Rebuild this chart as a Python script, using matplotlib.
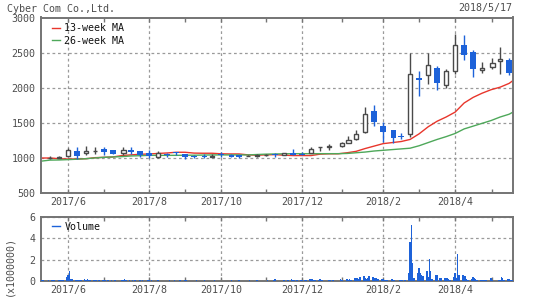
import numpy as np
import matplotlib
matplotlib.use('Agg')
import matplotlib.pyplot as plt
import matplotlib.dates as mdates
from matplotlib.lines import Line2D

plt.rcParams['font.family'] = ['DejaVu Sans Mono']
plt.rcParams['font.size'] = 7.2

# ---------------- data ----------------
company = "Cyber Com Co.,Ltd."
as_of = "2018/5/17"

candle_dates = ['2017-05-22', '2017-05-29', '2017-06-05', '2017-06-12', '2017-06-19', '2017-06-26',
                '2017-07-03', '2017-07-10', '2017-07-18', '2017-07-24', '2017-07-31', '2017-08-07',
                '2017-08-14', '2017-08-21', '2017-08-28', '2017-09-04', '2017-09-11', '2017-09-19',
                '2017-09-25', '2017-10-02', '2017-10-10', '2017-10-16', '2017-10-23', '2017-10-30',
                '2017-11-06', '2017-11-13', '2017-11-20', '2017-11-27', '2017-12-04', '2017-12-11',
                '2017-12-18', '2017-12-25', '2018-01-04', '2018-01-09', '2018-01-15', '2018-01-22',
                '2018-01-29', '2018-02-05', '2018-02-13', '2018-02-19', '2018-02-26', '2018-03-05',
                '2018-03-12', '2018-03-19', '2018-03-26', '2018-04-02', '2018-04-09', '2018-04-16',
                '2018-04-23', '2018-05-01', '2018-05-07', '2018-05-14']
opens = [995, 1000, 1020, 1090, 1060, 1095, 1125, 1110, 1060, 1110, 1095, 1070,
         1005, 1040, 1075, 1050, 1030, 1025, 1015, 1050, 1040, 1040, 1025, 1020,
         1035, 1055, 1045, 1060, 1055, 1065, 1145, 1155, 1160, 1215, 1270, 1370,
         1665, 1455, 1390, 1310, 1340, 2135, 2185, 2275, 2035, 2240, 2610, 2505,
         2245, 2290, 2375, 2395]
highs = [1020, 1020, 1135, 1155, 1165, 1150, 1155, 1112, 1150, 1145, 1100, 1110,
         1100, 1065, 1080, 1052, 1045, 1050, 1050, 1075, 1050, 1045, 1040, 1050,
         1050, 1060, 1070, 1125, 1075, 1145, 1152, 1190, 1220, 1310, 1400, 1730,
         1755, 1510, 1390, 1350, 2500, 2240, 2495, 2305, 2260, 2770, 2750, 2530,
         2370, 2420, 2575, 2415]
lows = [985, 990, 1010, 985, 1045, 1055, 1040, 1050, 1040, 1055, 1010, 995,
        995, 1015, 1045, 985, 1000, 1000, 1015, 1005, 1005, 1000, 1020, 1015,
        1030, 1005, 1040, 1040, 1035, 1060, 1100, 1110, 1155, 1205, 1245, 1355,
        1455, 1220, 1205, 1265, 1300, 1875, 2050, 1965, 2000, 2200, 2400, 2150,
        2205, 2270, 2200, 2175]
closes = [1000, 1003, 1110, 1030, 1100, 1100, 1075, 1055, 1115, 1085, 1040, 1020,
          1060, 1035, 1060, 1005, 1005, 1005, 1030, 1040, 1015, 1005, 1030, 1040,
          1040, 1045, 1065, 1045, 1040, 1130, 1150, 1160, 1205, 1250, 1335, 1620,
          1515, 1370, 1285, 1290, 2190, 2110, 2325, 2070, 2230, 2610, 2465, 2265,
          2275, 2345, 2410, 2215]

ma_dates = ['2017-05-15', '2017-05-22', '2017-05-29', '2017-06-05', '2017-06-12', '2017-06-19',
            '2017-06-26', '2017-07-03', '2017-07-10', '2017-07-17', '2017-07-24', '2017-07-31',
            '2017-08-07', '2017-08-14', '2017-08-21', '2017-08-28', '2017-09-04', '2017-09-11',
            '2017-09-18', '2017-09-25', '2017-10-02', '2017-10-09', '2017-10-16', '2017-10-23',
            '2017-10-30', '2017-11-06', '2017-11-13', '2017-11-20', '2017-11-27', '2017-12-04',
            '2017-12-11', '2017-12-18', '2017-12-25', '2018-01-01', '2018-01-08', '2018-01-15',
            '2018-01-22', '2018-01-29', '2018-02-05', '2018-02-12', '2018-02-19', '2018-02-26',
            '2018-03-05', '2018-03-12', '2018-03-19', '2018-03-26', '2018-04-02', '2018-04-09',
            '2018-04-16', '2018-04-23', '2018-04-30', '2018-05-07', '2018-05-14', '2018-05-17']
ma13 = [995, 995, 985, 980, 982, 985, 1000, 1005, 1010, 1030, 1040, 1048,
        1053, 1060, 1067, 1077, 1077, 1065, 1063, 1063, 1055, 1053, 1053, 1040,
        1035, 1040, 1043, 1035, 1030, 1030, 1030, 1050, 1055, 1055, 1070, 1090,
        1130, 1165, 1200, 1215, 1230, 1260, 1340, 1440, 1520, 1580, 1650, 1780,
        1860, 1920, 1970, 2006, 2060, 2100]
ma26 = [950, 965, 967, 972, 978, 985, 996, 1005, 1010, 1015, 1024, 1028,
        1033, 1033, 1033, 1033, 1035, 1035, 1037, 1039, 1039, 1039, 1039, 1039,
        1045, 1050, 1053, 1055, 1057, 1057, 1057, 1057, 1057, 1057, 1060, 1070,
        1080, 1095, 1105, 1115, 1125, 1135, 1170, 1215, 1260, 1300, 1345, 1410,
        1450, 1490, 1530, 1580, 1620, 1650]

# daily volume (millions), one row per week Mon..Fri, weeks starting 2017-05-15
vol_first_monday = '2017-05-15'
volume_weeks = [
    [0.05, 0.06, 0.08, 0.05, 0.04], [0.05, 0.04, 0.06, 0.05, 0.10], [0.04, 0.05, 0.08, 0.05, 0.06],
    [0.40, 0.55, 0.93, 0.20, 0.15], [0.12, 0.10, 0.08, 0.06, 0.05], [0.15, 0.12, 0.15, 0.06, 0.05],
    [0.05, 0.06, 0.05, 0.04, 0.05], [0.06, 0.10, 0.05, 0.04, 0.05], [0.05, 0.04, 0.05, 0.06, 0.04],
    [0.00, 0.06, 0.05, 0.20, 0.08], [0.05, 0.04, 0.05, 0.04, 0.06], [0.04, 0.05, 0.04, 0.05, 0.04],
    [0.10, 0.05, 0.04, 0.06, 0.00], [0.04, 0.05, 0.04, 0.03, 0.04], [0.04, 0.03, 0.04, 0.05, 0.04],
    [0.05, 0.04, 0.03, 0.04, 0.05], [0.04, 0.05, 0.06, 0.04, 0.03], [0.04, 0.03, 0.04, 0.05, 0.04],
    [0.00, 0.04, 0.05, 0.04, 0.03], [0.03, 0.04, 0.03, 0.05, 0.04], [0.04, 0.03, 0.04, 0.03, 0.04],
    [0.00, 0.04, 0.05, 0.04, 0.03], [0.04, 0.05, 0.04, 0.03, 0.04], [0.03, 0.04, 0.05, 0.04, 0.03],
    [0.04, 0.05, 0.04, 0.00, 0.04], [0.04, 0.03, 0.05, 0.04, 0.03], [0.05, 0.15, 0.04, 0.03, 0.04],
    [0.04, 0.05, 0.04, 0.00, 0.05], [0.20, 0.06, 0.05, 0.04, 0.05], [0.05, 0.06, 0.04, 0.05, 0.06],
    [0.20, 0.20, 0.15, 0.06, 0.05], [0.05, 0.15, 0.06, 0.05, 0.04], [0.04, 0.10, 0.05, 0.04, 0.05],
    [0.00, 0.00, 0.00, 0.15, 0.06], [0.00, 0.15, 0.12, 0.15, 0.10], [0.30, 0.25, 0.30, 0.15, 0.35],
    [0.45, 0.30, 0.20, 0.25, 0.50], [0.35, 0.30, 0.30, 0.25, 0.20], [0.15, 0.20, 0.10, 0.08, 0.06],
    [0.00, 0.15, 0.06, 0.05, 0.04], [0.05, 0.10, 0.05, 0.04, 0.06], [0.72, 3.67, 5.20, 1.65, 0.30],
    [0.72, 1.25, 0.75, 0.60, 0.50], [0.90, 0.35, 2.06, 0.93, 0.20], [0.55, 0.55, 0.00, 0.30, 0.30],
    [0.25, 0.25, 0.25, 0.20, 0.08], [0.40, 0.72, 0.30, 2.50, 0.56], [0.55, 0.50, 0.50, 0.15, 0.10],
    [0.20, 0.40, 0.25, 0.15, 0.08], [0.10, 0.10, 0.10, 0.10, 0.06], [0.00, 0.30, 0.10, 0.00, 0.00],
    [0.10, 0.10, 0.40, 0.30, 0.08], [0.15, 0.20, 0.10, 0.10, 0.10],
]

labeled_months = ['2017-06-05', '2017-08-07', '2017-10-02', '2017-12-04', '2018-02-05', '2018-04-02']
month_labels = ['2017/6', '2017/8', '2017/10', '2017/12', '2018/2', '2018/4']
other_months = ['2017-07-03', '2017-09-04', '2017-11-06', '2018-01-04', '2018-03-05', '2018-05-01']

x_start, x_end = '2017-05-15', '2018-05-17'
price_ticks = [500, 1000, 1500, 2000, 2500, 3000]
vol_ticks = [0, 2, 4, 6]

# ---------------- style ----------------
BLUE = '#1d62d9'
DARK = '#4a4a4a'
RED = '#e8362c'
GREEN = '#4ea85a'
FRAME = '#747474'
TXT = '#4d4d4d'
GRID = '#9a9a9a'

def d2n(s):
    return mdates.date2num(np.array(s, dtype='datetime64[D]'))

W, H = 548, 297
fig = plt.figure(figsize=(W / 100, H / 100), dpi=100)
L, R = 41, 513
ax = fig.add_axes([L / W, 1 - 192.7 / H, (R - L) / W, (192.7 - 17.5) / H])
axv = fig.add_axes([L / W, 1 - 281 / H, (R - L) / W, (281 - 216.7) / H])

xc = d2n(candle_dates)
o = np.array(opens, float); h = np.array(highs, float)
l = np.array(lows, float); c = np.array(closes, float)
up = c >= o
dn = ~up

# moving averages
xm = d2n(ma_dates)
ax.plot(xm, ma13, color=RED, lw=1.0, label='13-week MA', zorder=2)
ax.plot(xm, ma26, color=GREEN, lw=1.0, label='26-week MA', zorder=2)

# candles
ax.vlines(xc[up], l[up], h[up], color=DARK, lw=1.0, zorder=3)
ax.vlines(xc[dn], l[dn], h[dn], color=BLUE, lw=1.0, zorder=3)
ax.bar(xc[up], np.maximum(c[up] - o[up], 3), bottom=o[up], width=3.6,
       facecolor='white', edgecolor=DARK, linewidth=1.0, zorder=4)
ax.bar(xc[dn], np.maximum(o[dn] - c[dn], 12), bottom=c[dn], width=4.3,
       facecolor=BLUE, edgecolor='none', linewidth=0, zorder=4)

# volume
vol = np.array(volume_weeks, float)
monday0 = np.datetime64(vol_first_monday)
vdates = np.array([monday0 + np.timedelta64(7 * wi + di, 'D')
                   for wi in range(vol.shape[0]) for di in range(5)])
xv = mdates.date2num(vdates) - 1.0
axv.bar(xv, vol.ravel(), width=1.1, color=BLUE, linewidth=0, zorder=3)

# axes styling
x0, x1 = d2n([x_start, x_end])
for a in (ax, axv):
    a.set_xlim(x0, x1)
    a.set_xticks(d2n(labeled_months))
    a.set_xticklabels(month_labels)
    a.set_xticks(d2n(other_months), minor=True)
    a.tick_params(axis='x', which='both', direction='in', length=3, width=1,
                  color=FRAME, top=True, bottom=True, labelcolor=TXT, pad=3,
                  labelsize=7.2)
    a.tick_params(axis='y', which='both', length=0, labelcolor=TXT, pad=4, labelsize=7.2)
    a.grid(True, which='major', ls=(0, (2.2, 2.2)), color=GRID, lw=0.9, zorder=1)
    a.set_axisbelow(True)
    for sp in a.spines.values():
        sp.set_color(FRAME)
        sp.set_linewidth(1.4)

ax.set_ylim(500, 3000)
ax.set_yticks(price_ticks)
axv.set_ylim(0, 6)
axv.set_yticks(vol_ticks)

leg = ax.legend(loc='upper left', bbox_to_anchor=(0.022, 0.972), frameon=False,
                handlelength=0.75, handletextpad=0.45, labelspacing=0.25,
                borderpad=0.1, borderaxespad=0, fontsize=7.2)
for t in leg.get_texts():
    t.set_color('#111111')

vh = [Line2D([0], [0], color=BLUE, lw=1.0)]
legv = axv.legend(vh, ['Volume'], loc='upper left', bbox_to_anchor=(0.022, 0.94),
                  frameon=False, handlelength=0.75, handletextpad=0.45,
                  borderpad=0.1, borderaxespad=0, fontsize=7.2)
for t in legv.get_texts():
    t.set_color('#111111')

fig.text(7 / W, 1 - 8.5 / H, company, ha='left', va='center', color=TXT, fontsize=7.2)
fig.text(512.5 / W, 1 - 8.5 / H, as_of, ha='right', va='center', color=TXT, fontsize=7.2)
fig.text(9 / W, 1 - 266 / H, '(x1000000)', ha='center', va='center', rotation=90,
         color=TXT, fontsize=7.2)

fig.savefig('out.png', dpi=100)
